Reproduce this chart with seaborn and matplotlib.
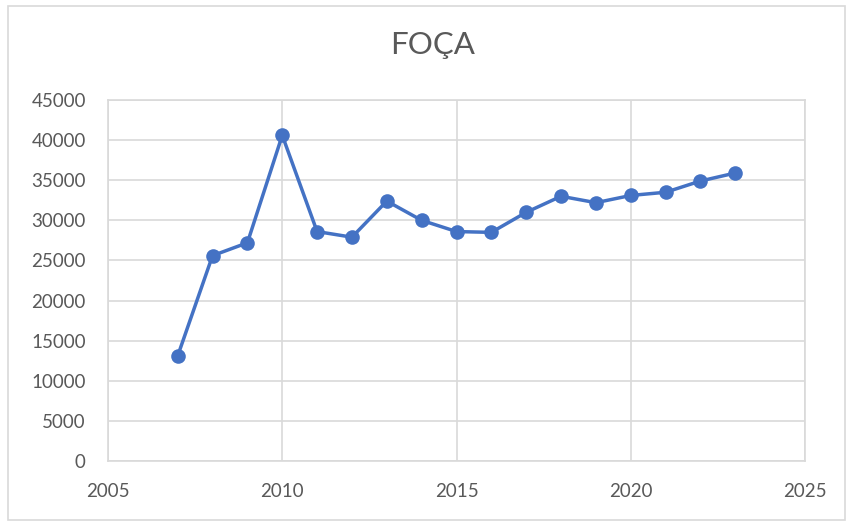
import pandas as pd
import matplotlib.pyplot as plt
import seaborn as sns
from matplotlib.patches import Rectangle

years = [2007, 2008, 2009, 2010, 2011, 2012, 2013, 2014, 2015,
         2016, 2017, 2018, 2019, 2020, 2021, 2022, 2023]
values = [13100, 25600, 27200, 40600, 28600, 27900, 32400, 30000, 28600,
          28500, 31000, 33000, 32200, 33100, 33500, 34900, 35900]
title = "FOÇA"

LINE = "#4472C4"
GRID = "#D9D9D9"
TEXT = "#595959"

df = pd.DataFrame({"year": years, "value": values})

sns.set_theme(style="white")
plt.rcParams["font.family"] = ["Lato", "DejaVu Sans"]

fig = plt.figure(figsize=(8.5, 5.25), dpi=100)
ax = fig.add_axes([108 / 850, 1 - 461 / 525, (805 - 108) / 850, (461 - 100) / 525])

sns.lineplot(data=df, x="year", y="value", color=LINE, linewidth=2.5,
             marker="o", markersize=10.5, markeredgewidth=0, ax=ax)

ax.set_xlim(2005, 2025)
ax.set_ylim(0, 45000)
ax.set_xticks(range(2005, 2026, 5))
ax.set_yticks(range(0, 45001, 5000))
ax.grid(True, color=GRID, linewidth=1.2)
ax.set_axisbelow(True)
for s in ax.spines.values():
    s.set_color(GRID)
    s.set_linewidth(1.2)
ax.tick_params(axis="y", length=0, pad=16, labelsize=13.5, labelcolor=TEXT)
ax.tick_params(axis="x", length=0, pad=16, labelsize=13.5, labelcolor=TEXT)
ax.set_xlabel("")
ax.set_ylabel("")

fig.text(433 / 850, 1 - 45 / 525, title, ha="center", va="center",
         fontsize=22.5, color=TEXT)

fig.patches.append(Rectangle((8 / 850, 5 / 525), 837 / 850, 514 / 525,
                             transform=fig.transFigure, fill=False,
                             edgecolor=GRID, linewidth=1.2))

fig.savefig("out.png", dpi=100)
